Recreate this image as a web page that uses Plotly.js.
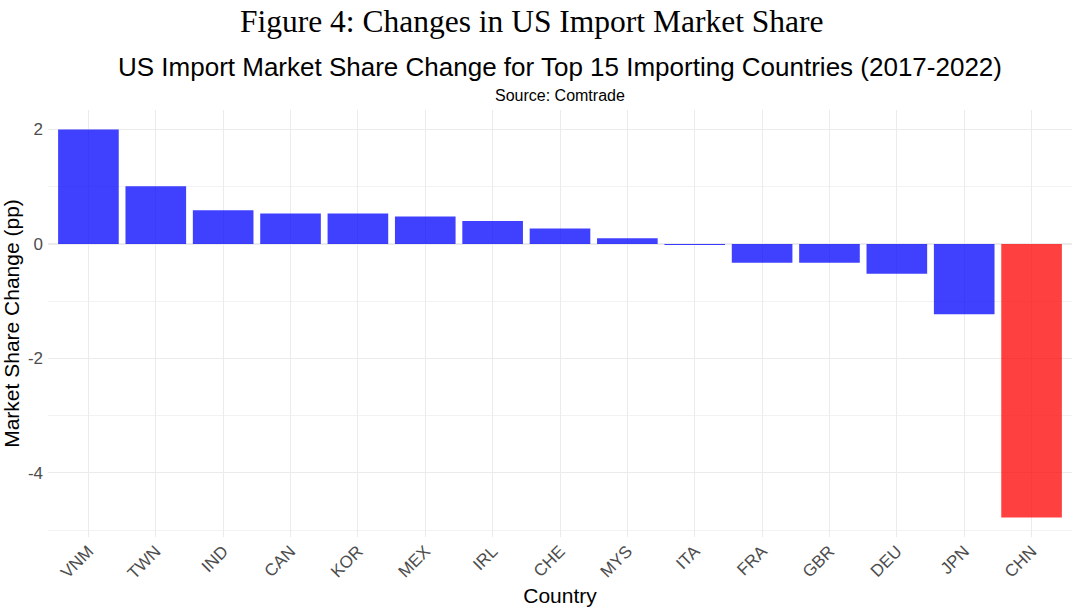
<!DOCTYPE html>
<html>
<head>
<meta charset="utf-8">
<script src="https://cdn.plot.ly/plotly-3.0.1.min.js"></script>
<style>html,body{margin:0;padding:0;background:#fff;}#chart{width:1073px;height:609px;}</style>
</head>
<body>
<div id="chart"></div>
<script>
const countries = ["VNM","TWN","IND","CAN","KOR","MEX","IRL","CHE","MYS","ITA","FRA","GBR","DEU","JPN","CHN"];
const shareChange = [2.00, 1.01, 0.59, 0.53, 0.53, 0.48, 0.40, 0.27, 0.10, -0.02, -0.33, -0.33, -0.52, -1.23, -4.78];
const highlight = "CHN";
const yTicks = [-4, -2, 0, 2];

const colors = countries.map(c => c === highlight ? "rgba(255,0,0,0.75)" : "rgba(0,0,255,0.75)");

const trace = {
  type: "bar",
  x: countries,
  y: shareChange,
  marker: {color: colors, line: {width: 0}},
  width: 0.9,
  hoverinfo: "x+y"
};

const sans = "Liberation Sans, Arial, sans-serif";

const layout = {
  width: 1073, height: 609,
  margin: {l: 48, r: 1, t: 110, b: 72},
  paper_bgcolor: "#fff", plot_bgcolor: "#fff",
  showlegend: false,
  font: {family: sans, color: "#4d4d4d"},
  xaxis: {
    type: "category",
    range: [-0.6, 14.6],
    tickangle: -45,
    tickfont: {size: 17, color: "#4d4d4d"},
    showgrid: true, gridcolor: "#ebebeb", gridwidth: 1,
    zeroline: false, showline: false, ticks: "",
    title: {text: "Country", font: {size: 21, color: "#000"}, standoff: 6}
  },
  yaxis: {
    range: [-5.12, 2.34],
    tickvals: yTicks,
    ticktext: yTicks.map(String),
    tickfont: {size: 17, color: "#4d4d4d"},
    showgrid: true, gridcolor: "#ebebeb", gridwidth: 1.2,
    minor: {dtick: 1, tick0: 0, showgrid: true, gridcolor: "#f2f2f2", gridwidth: 1},
    zeroline: false, showline: false, ticks: "",
    ticklabelstandoff: 4,
    title: {text: "Market Share Change (pp)", font: {size: 21, color: "#000"}, standoff: 4}
  },
  annotations: [
    {text: "Figure 4: Changes in US Import Market Share", xref: "paper", yref: "paper",
     x: 0.473, y: 1.208, xanchor: "center", yanchor: "middle", showarrow: false,
     font: {family: "Liberation Serif, Times New Roman, serif", size: 31.5, color: "#000"}},
    {text: "US Import Market Share Change for Top 15 Importing Countries (2017-2022)", xref: "paper", yref: "paper",
     x: 0.5, y: 1.1, xanchor: "center", yanchor: "middle", showarrow: false,
     font: {family: sans, size: 26, color: "#000"}},
    {text: "Source: Comtrade", xref: "paper", yref: "paper",
     x: 0.5, y: 1.035, xanchor: "center", yanchor: "middle", showarrow: false,
     font: {family: sans, size: 16, color: "#000"}}
  ]
};

Plotly.newPlot("chart", [trace], layout, {displayModeBar: false, staticPlot: true});
</script>
</body>
</html>
